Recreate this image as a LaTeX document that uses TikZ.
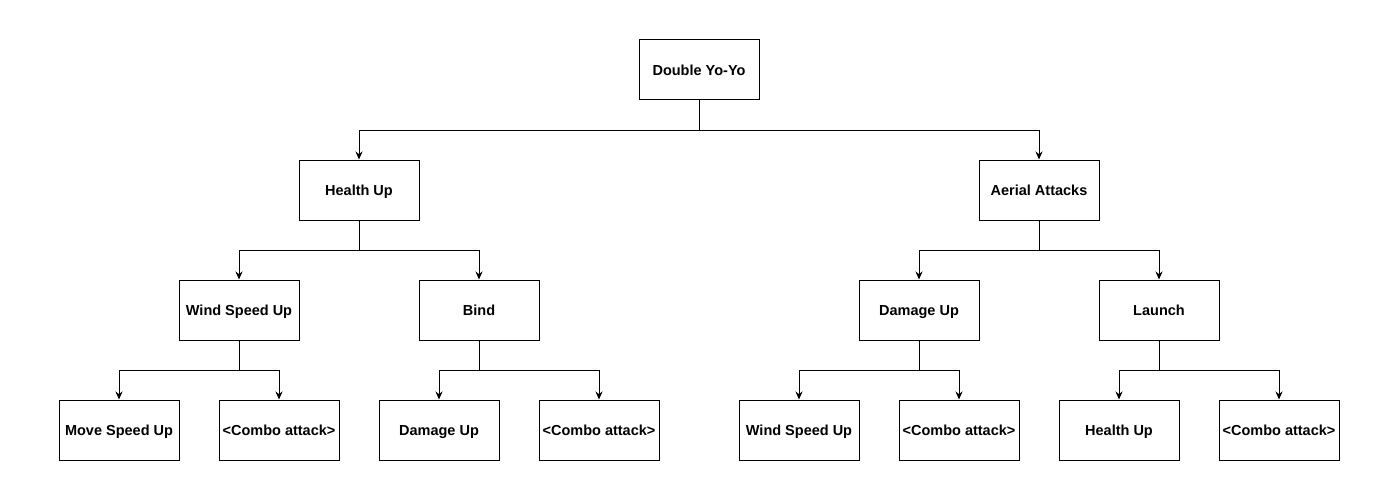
\documentclass[tikz,border=0pt]{standalone}
\usepackage{fontspec}
\setmainfont{Liberation Sans}
\usetikzlibrary{arrows.meta}
\tikzset{
  skill/.style={draw, line width=1pt, minimum width=120pt, minimum height=60pt,
    inner sep=2pt, text height=11pt, text depth=0pt,
    font=\fontsize{14.5}{17}\selectfont\bfseries},
  link/.style={line width=1pt, -{Stealth[length=8pt,width=7pt]}}
}
\begin{document}
\begin{tikzpicture}[x=1pt,y=-1pt]
            \useasboundingbox (0,0) rectangle (1400,500);
            \node[skill] (root) at (699,70) {Double Yo-Yo};

            \node[skill] (health) at (359,190) {Health Up};
            \node[skill] (aerial) at (1039,190) {Aerial Attacks};

            \node[skill] (wind) at (239,310) {Wind Speed Up};
            \node[skill] (bind) at (479,310) {Bind};
            \node[skill] (damage) at (919,310) {Damage Up};
            \node[skill] (launch) at (1159,310) {Launch};

            \node[skill] (move) at (119,430) {Move Speed Up};
            \node[skill] (comboa) at (279,430) {<Combo attack>};
            \node[skill] (damageb) at (439,430) {Damage Up};
            \node[skill] (combob) at (599,430) {<Combo attack>};
            \node[skill] (windd) at (799,430) {Wind Speed Up};
            \node[skill] (combod) at (959,430) {<Combo attack>};
            \node[skill] (healthl) at (1119,430) {Health Up};
            \node[skill] (combol) at (1279,430) {<Combo attack>};

            \draw[link] (root.south) -- ++(0,30) -| (health);
            \draw[link] (root.south) -- ++(0,30) -| (aerial);
            \draw[link] (health.south) -- ++(0,30) -| (wind);
            \draw[link] (health.south) -- ++(0,30) -| (bind);
            \draw[link] (aerial.south) -- ++(0,30) -| (damage);
            \draw[link] (aerial.south) -- ++(0,30) -| (launch);
            \draw[link] (wind.south) -- ++(0,30) -| (move);
            \draw[link] (wind.south) -- ++(0,30) -| (comboa);
            \draw[link] (bind.south) -- ++(0,30) -| (damageb);
            \draw[link] (bind.south) -- ++(0,30) -| (combob);
            \draw[link] (damage.south) -- ++(0,30) -| (windd);
            \draw[link] (damage.south) -- ++(0,30) -| (combod);
            \draw[link] (launch.south) -- ++(0,30) -| (healthl);
            \draw[link] (launch.south) -- ++(0,30) -| (combol);
        \end{tikzpicture}
\end{document}
